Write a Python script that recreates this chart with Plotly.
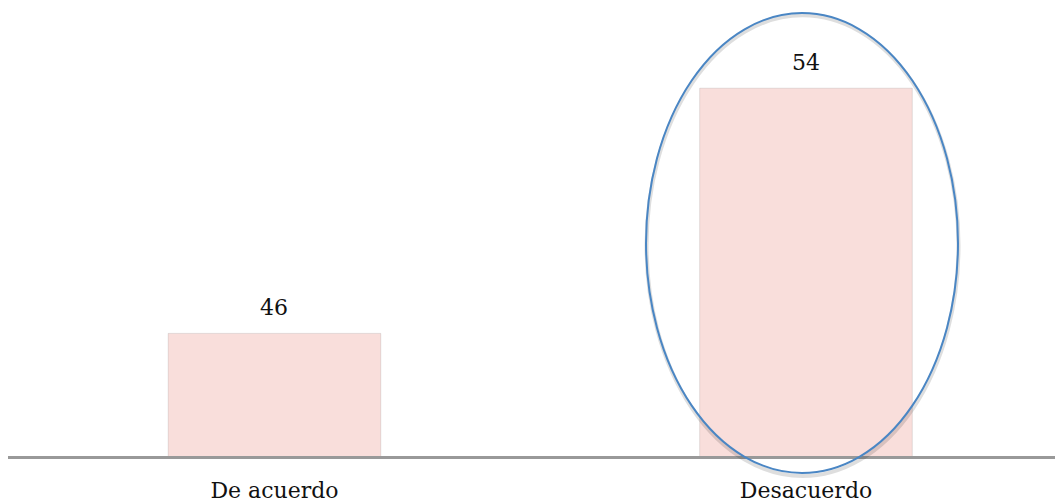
import plotly.graph_objects as go

# Survey answers (percent)
categories = ["De acuerdo", "Desacuerdo"]
values = [46, 54]

bar_color = "#f9dedb"
font_family = "DejaVu Serif"

fig = go.Figure()

fig.add_trace(go.Bar(
    x=categories,
    y=values,
    width=0.4,
    marker=dict(color=bar_color, line=dict(color="rgba(0,0,0,0.10)", width=1)),
    hoverinfo="x+y",
))

# value labels above bars
for cat, val in zip(categories, values):
    fig.add_annotation(
        x=cat, y=val, text=str(val), showarrow=False,
        yshift=26, font=dict(family=font_family, size=22, color="#111111"),
    )

# highlight ellipse around the second bar (with soft shadow)
fig.add_shape(
    type="circle", xref="paper", yref="paper",
    x0=0.6007, x1=0.8942, y0=-0.045, y1=0.988,
    line=dict(color="rgba(0,0,0,0.13)", width=4), layer="above",
)
fig.add_shape(
    type="circle", xref="paper", yref="paper",
    x0=0.6002, x1=0.8937, y0=-0.038, y1=0.993,
    line=dict(color="#4a86c4", width=2), layer="above",
)

# page adds an 8px body margin, so the figure is nudged up/left to compensate
fig.update_layout(
    width=1063,
    height=502,
    margin=dict(l=0, r=0, t=2, b=54),
    plot_bgcolor="white",
    paper_bgcolor="white",
    showlegend=False,
    font=dict(family=font_family, size=22, color="#111111"),
    xaxis=dict(
        range=[-0.5014, 1.4986],
        showline=True, linecolor="#999999", linewidth=3,
        showgrid=False, ticks="", ticklabelstandoff=13,
        tickfont=dict(family=font_family, size=22, color="#111111"),
    ),
    yaxis=dict(
        range=[42, 56.55],
        visible=False, showgrid=False, zeroline=False,
    ),
)

fig.write_html("out.html")
